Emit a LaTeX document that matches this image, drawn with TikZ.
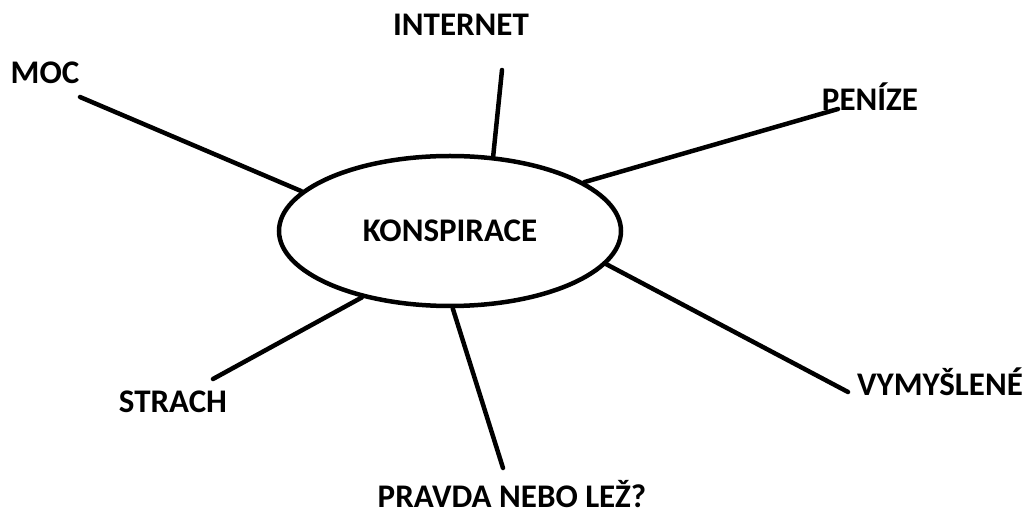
\documentclass[tikz,border=0pt]{standalone}
\usepackage{fontspec}
\setmainfont{Carlito}
\usetikzlibrary{shapes.geometric}

\begin{document}
\begin{tikzpicture}[x=1pt,y=-1pt,
    lbl/.style={font=\fontsize{33}{39}\selectfont\bfseries,inner sep=0pt},
    spoke/.style={line width=4.5pt,line cap=round}]
      \useasboundingbox (0,0) rectangle (1026,510);

      \node[shape=ellipse,draw=black,line width=4.5pt,minimum width=342pt,minimum height=150pt,inner sep=0pt,lbl](kon) at (450,231) {KONSPIRACE};

      \node[lbl](moc) at (45,73) {MOC};
      \node[lbl](internet) at (461,25) {INTERNET};
      \node[lbl](penize) at (870,97) {PENÍZE};
      \node[lbl](vymyslene) at (940,382) {VYMYŠLENÉ};
      \node[lbl](strach) at (173,402) {STRACH};
      \node[lbl](pravda) at (512,494) {PRAVDA NEBO LEŽ?};

      \coordinate (mocEnd) at (80,97);
      \coordinate (internetEnd) at (502,70);
      \coordinate (peniEnd) at (838,109);
      \coordinate (vymEnd) at (848,392);
      \coordinate (strachEnd) at (213,379);
      \coordinate (pravdaEnd) at (503,468);

      \path [spoke] (kon.165.6) edge (mocEnd);
      \path [spoke] (kon.60.4) edge (internetEnd);
      \path [spoke] (kon.20.4) edge (peniEnd);
      \path [spoke] (kon.-12) edge (vymEnd);
      \path [spoke] (kon.-143.2) edge (strachEnd);
      \path [spoke] (kon.-88.6) edge (pravdaEnd);
    \end{tikzpicture}
\end{document}
